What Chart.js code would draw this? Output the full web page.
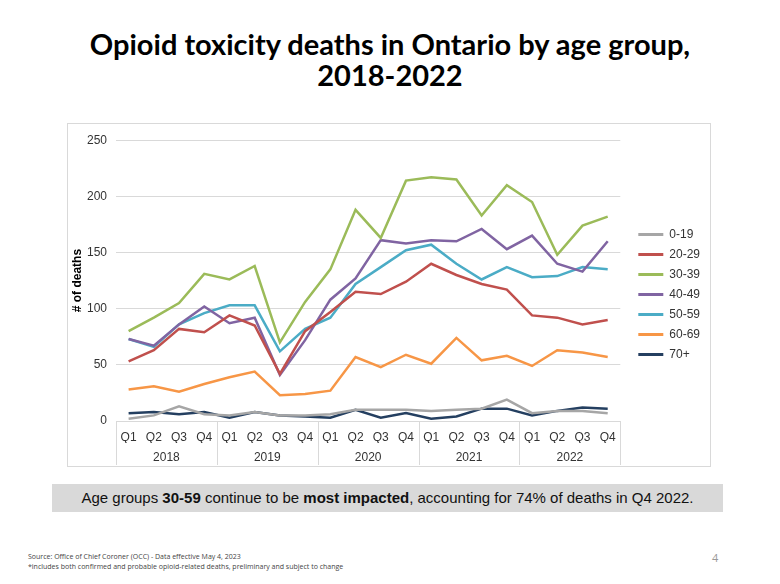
<!DOCTYPE html>
<html>
<head>
<meta charset="utf-8">
<script src="https://cdn.jsdelivr.net/npm/chart.js@4.4.0/dist/chart.umd.min.js"></script>
<style>
  html, body { margin:0; padding:0; background:#fff; }
  body { width:780px; height:584px; position:relative; overflow:hidden; font-family:"Liberation Sans", Arial, sans-serif; }
  #title { position:absolute; left:0; top:28px; width:780px; text-align:center; font-family:Lato, "Open Sans", sans-serif; font-weight:bold; font-size:29px; line-height:31px; color:#000; }
  #box { position:absolute; left:67px; top:123px; width:642px; height:342px; border:1px solid #d9d9d9; background:#fff; }
  #caption { position:absolute; left:52px; top:484px; width:671px; height:28px; background:#d9d9d9; text-align:center; font-size:15px; line-height:28px; color:#111; }
  #foot { position:absolute; left:28px; top:552px; font-family:"Open Sans", sans-serif; font-size:7px; line-height:10px; color:#444; }
  #page { position:absolute; left:712px; top:550px; font-family:"Open Sans", sans-serif; font-size:11px; color:#999; }
</style>
</head>
<body>
<div id="title">Opioid toxicity deaths in Ontario by age group,<br>2018-2022</div>
<div id="box"><canvas id="c"></canvas></div>
<div id="caption">Age groups <b>30-59</b> continue to be <b>most impacted</b>, accounting for 74% of deaths in Q4 2022.</div>
<div id="foot">Source: Office of Chief Coroner (OCC) - Data effective May 4, 2023<br>*includes both confirmed and probable opioid-related deaths, preliminary and subject to change</div>
<div id="page">4</div>
<script>
const quarters = ['Q1','Q2','Q3','Q4','Q1','Q2','Q3','Q4','Q1','Q2','Q3','Q4','Q1','Q2','Q3','Q4','Q1','Q2','Q3','Q4'];
const years = ['2018','2019','2020','2021','2022'];
const yTicks = [0, 50, 100, 150, 200, 250];

const age0_19  = [2, 5, 13, 6, 5, 8, 5, 5, 6, 10, 10, 10, 9, 10, 11, 19, 7, 9, 9, 7];
const age20_29 = [53, 63, 82, 79, 94, 85, 42, 80, 97, 115, 113, 124, 140, 130, 122, 117, 94, 92, 86, 90];
const age30_39 = [80, 92, 105, 131, 126, 138, 70, 106, 135, 188, 163, 214, 217, 215, 183, 210, 195, 148, 174, 182];
const age40_49 = [73, 67, 86, 102, 87, 92, 41, 72, 108, 127, 161, 158, 161, 160, 171, 153, 165, 140, 133, 160];
const age50_59 = [73, 66, 86, 96, 103, 103, 62, 82, 92, 122, 137, 152, 157, 140, 126, 137, 128, 129, 137, 135];
const age60_69 = [28, 31, 26, 33, 39, 44, 23, 24, 27, 57, 48, 59, 51, 74, 54, 58, 49, 63, 61, 57];
const age70p   = [7, 8, 6, 8, 3, 8, 5, 4, 3, 10, 3, 7, 2, 4, 11, 11, 5, 9, 12, 11];

const seriesNames = ['0-19','20-29','30-39','40-49','50-59','60-69','70+'];
const seriesData = [age0_19, age20_29, age30_39, age40_49, age50_59, age60_69, age70p];
const seriesColors = ['#a6a6a6','#c0504d','#9bbb59','#8064a2','#4bacc6','#f79646','#243f60'];

const datasets = seriesNames.map((n, i) => ({
  label: n,
  data: seriesData[i],
  borderColor: seriesColors[i],
  backgroundColor: seriesColors[i],
  borderWidth: 2.5,
  pointRadius: 0,
  tension: 0,
  xAxisID: 'x',
  yAxisID: 'y'
}));

const font = { family: '"Liberation Sans", Arial, sans-serif', size: 12 };

// vertical separators between years, spanning both label rows (positions from the category scale)
const yearDividers = {
  id: 'yearDividers',
  afterDraw(chart) {
    const x = chart.scales.x, x2 = chart.scales.x2, ctx = chart.ctx;
    ctx.save();
    ctx.strokeStyle = '#d9d9d9';
    ctx.lineWidth = 1;
    for (let k = 0; k <= years.length; k++) {
      const px = Math.round(x.getPixelForValue(k * 4 - 0.5)) + 0.5;
      ctx.beginPath();
      ctx.moveTo(px, x.top);
      ctx.lineTo(px, x2.bottom);
      ctx.stroke();
    }
    ctx.restore();
  }
};

new Chart(document.getElementById('c'), {
  type: 'line',
  data: { labels: quarters, datasets },
  plugins: [yearDividers],
  options: {
    responsive: true,
    maintainAspectRatio: false,
    animation: false,
    layout: { padding: { top: 0, right: 0, bottom: 1, left: 0 } },
    plugins: {
      tooltip: { enabled: false },
      legend: {
        position: 'right',
        labels: {
          boxWidth: 25,
          boxHeight: 3,
          padding: 8,
          color: '#333',
          font: font,
          generateLabels(chart) {
            return Chart.defaults.plugins.legend.labels.generateLabels(chart).map(l => ({ ...l, fillStyle: l.strokeStyle, lineWidth: 0 }));
          }
        }
      }
    },
    scales: {
      y: {
        min: 0, max: 250,
        afterBuildTicks(scale) { scale.ticks = yTicks.map(v => ({ value: v })); },
        afterFit(scale) { scale.width = 48; },
        border: { display: false },
        grid: { color: '#d9d9d9', drawTicks: false, lineWidth: 1 },
        ticks: { color: '#333', font: font, padding: 9 },
        title: { display: true, text: '# of deaths', color: '#000', font: { family: font.family, size: 12, weight: 'bold' }, padding: { top: 2, bottom: 0 } }
      },
      yR: {
        type: 'linear',
        position: 'right',
        display: true,
        border: { display: false },
        grid: { display: false },
        ticks: { display: false },
        afterFit(scale) { scale.width = 10; }
      },
      x: {
        position: 'bottom',
        weight: 0,
        offset: true,
        border: { display: true, color: '#d9d9d9' },
        grid: { display: false, drawTicks: false },
        ticks: { color: '#333', font: font, padding: 9, maxRotation: 0, autoSkip: false },
        afterFit(scale) { scale.height = 22; }
      },
      x2: {
        type: 'category',
        position: 'bottom',
        weight: 1,
        labels: years,
        offset: true,
        border: { display: false },
        grid: { display: false, drawTicks: false },
        ticks: { color: '#333', font: font, padding: 7, maxRotation: 0 },
        afterFit(scale) { scale.height = 22; }
      }
    }
  }
});
</script>
</body>
</html>
